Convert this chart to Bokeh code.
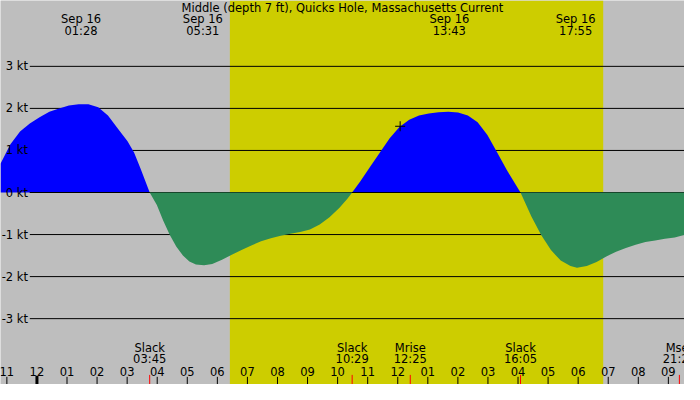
from bokeh.plotting import figure
from bokeh.models import Range1d, BoxAnnotation
from bokeh.core.properties import value
from bokeh.embed import file_html
from bokeh.resources import INLINE

# current speed (kt) against hours from midnight Sep 16
hours = [-1.212, -0.887, -0.562, -0.237, 0.088, 0.413, 0.738, 1.063, 1.388, 1.712,
         2.037, 2.362, 2.688, 3.013, 3.230, 3.445, 3.75,
         3.988, 4.205, 4.420, 4.638, 4.855, 5.070, 5.288, 5.557, 5.830, 6.155,
         6.480, 6.805, 7.130, 7.455, 7.780, 8.105, 8.430, 8.755, 9.080, 9.405,
         9.730, 10.055, 10.325, 10.483,
         10.757, 11.082, 11.407, 11.732, 12.057, 12.382, 12.707, 13.032, 13.357, 13.682,
         14.007, 14.332, 14.657, 14.982, 15.307, 15.632, 15.905, 16.083,
         16.445, 16.770, 17.095, 17.420, 17.745, 17.962, 18.287, 18.612, 18.937, 19.262,
         19.587, 19.912, 20.237, 20.562, 20.887, 21.212, 21.537]
knots = [0.685, 1.14, 1.45, 1.64, 1.79, 1.92, 2.00, 2.07, 2.10, 2.10,
         2.03, 1.83, 1.52, 1.22, 0.95, 0.57, 0.0,
         -0.30, -0.68, -1.01, -1.29, -1.50, -1.64, -1.71, -1.73, -1.70, -1.60,
         -1.48, -1.37, -1.26, -1.16, -1.09, -1.03, -0.98, -0.94, -0.88, -0.76,
         -0.59, -0.37, -0.15, 0.0,
         0.27, 0.61, 0.95, 1.29, 1.56, 1.73, 1.83, 1.88, 1.91, 1.92,
         1.90, 1.83, 1.67, 1.37, 0.95, 0.53, 0.21, 0.0,
         -0.57, -1.01, -1.37, -1.62, -1.75, -1.79, -1.75, -1.65, -1.52, -1.41,
         -1.32, -1.24, -1.18, -1.14, -1.10, -1.07, -1.01]

title = "Middle (depth 7 ft), Quicks Hole, Massachusetts Current"
peak_times = ["01:28", "05:31", "13:43", "17:55"]
event_names = ["Slack", "Slack", "Mrise", "Slack", "Mset"]
event_times = ["03:45", "10:29", "12:25", "16:05", "21:22"]
sunrise, sunset = "06:25", "18:50"
now_hour, now_knots = 12.08, 1.575
kt_levels = [-3, -2, -1, 0, 1, 2, 3]
hour_ticks = list(range(-1, 22))


def to_h(t):
    hh, mm = t.split(":")
    return int(hh) + int(mm) / 60


def px(y):
    # reference pixel row -> knots
    return (200 - y) / 43.8


FONT = value("DejaVu Sans")
FS = "11.5px"

p = figure(width=684, height=384, x_range=Range1d(-1.212, 21.537),
           y_range=Range1d(px(400), px(0)), output_backend="svg",
           toolbar_location=None, min_border=0, x_axis_type=None, y_axis_type=None,
           background_fill_color="#BEBEBE", border_fill_color="#BEBEBE",
           outline_line_color=None)
p.grid.visible = False

p.add_layout(BoxAnnotation(left=to_h(sunrise), right=to_h(sunset), fill_color="#CDCD00",
                           fill_alpha=1, line_color=None, level="underlay"))

# level lines
x_start = -0.237
p.segment(x0=[x_start] * len(kt_levels), y0=kt_levels, x1=[21.6] * len(kt_levels),
          y1=kt_levels, line_color="black", line_width=1)

pos = [max(k, 0) for k in knots]
neg = [min(k, 0) for k in knots]
p.varea(x=hours, y1=0, y2=pos, fill_color="#0000FF")
p.segment(x0=[x_start], y0=[0], x1=[21.6], y1=[0], line_color="black", line_width=1)
p.varea(x=hours, y1=0, y2=neg, fill_color="#2E8B57")

p.text(x=[-0.30] * len(kt_levels), y=kt_levels, text=[f"{k} kt" for k in kt_levels],
       text_align="right", text_baseline="middle", text_font=FONT, text_font_size=FS,
       text_color="black")

# title and extremes along the top
p.text(x=[10.16], y=[px(8)], text=[title], text_align="center", text_baseline="middle",
       text_font=FONT, text_font_size=FS, text_color="black")
ph = [to_h(t) for t in peak_times]
p.text(x=ph, y=[px(19.5)] * len(ph), text=["Sep 16"] * len(ph), text_align="center",
       text_baseline="middle", text_font=FONT, text_font_size=FS, text_color="black")
p.text(x=ph, y=[px(31.5)] * len(ph), text=peak_times, text_align="center",
       text_baseline="middle", text_font=FONT, text_font_size=FS, text_color="black")

# events along the bottom
eh = [to_h(t) for t in event_times]
p.text(x=eh, y=[px(361.5)] * len(eh), text=event_names, text_align="center",
       text_baseline="middle", text_font=FONT, text_font_size=FS, text_color="black")
p.text(x=eh, y=[px(373.5)] * len(eh), text=event_times, text_align="center",
       text_baseline="middle", text_font=FONT, text_font_size=FS, text_color="black")

# hour ticks
p.text(x=hour_ticks, y=[px(386)] * len(hour_ticks),
       text=[f"{(h % 12) or 12:02d}" for h in hour_ticks], text_align="center",
       text_baseline="middle", text_font=FONT, text_font_size=FS, text_color="black")
p.segment(x0=hour_ticks, y0=[px(392)] * len(hour_ticks), x1=hour_ticks,
          y1=[px(400)] * len(hour_ticks), line_color="black", line_width=1)
p.segment(x0=[0], y0=[px(391)], x1=[0], y1=[px(400)], line_color="black", line_width=3)
p.segment(x0=eh, y0=[px(390)] * len(eh), x1=eh, y1=[px(400)] * len(eh),
          line_color="red", line_width=1)

p.scatter(x=[now_hour], y=[now_knots], marker="cross", size=10, line_color="black",
          line_width=1)

open("out.html", "w").write(file_html(p, INLINE))
